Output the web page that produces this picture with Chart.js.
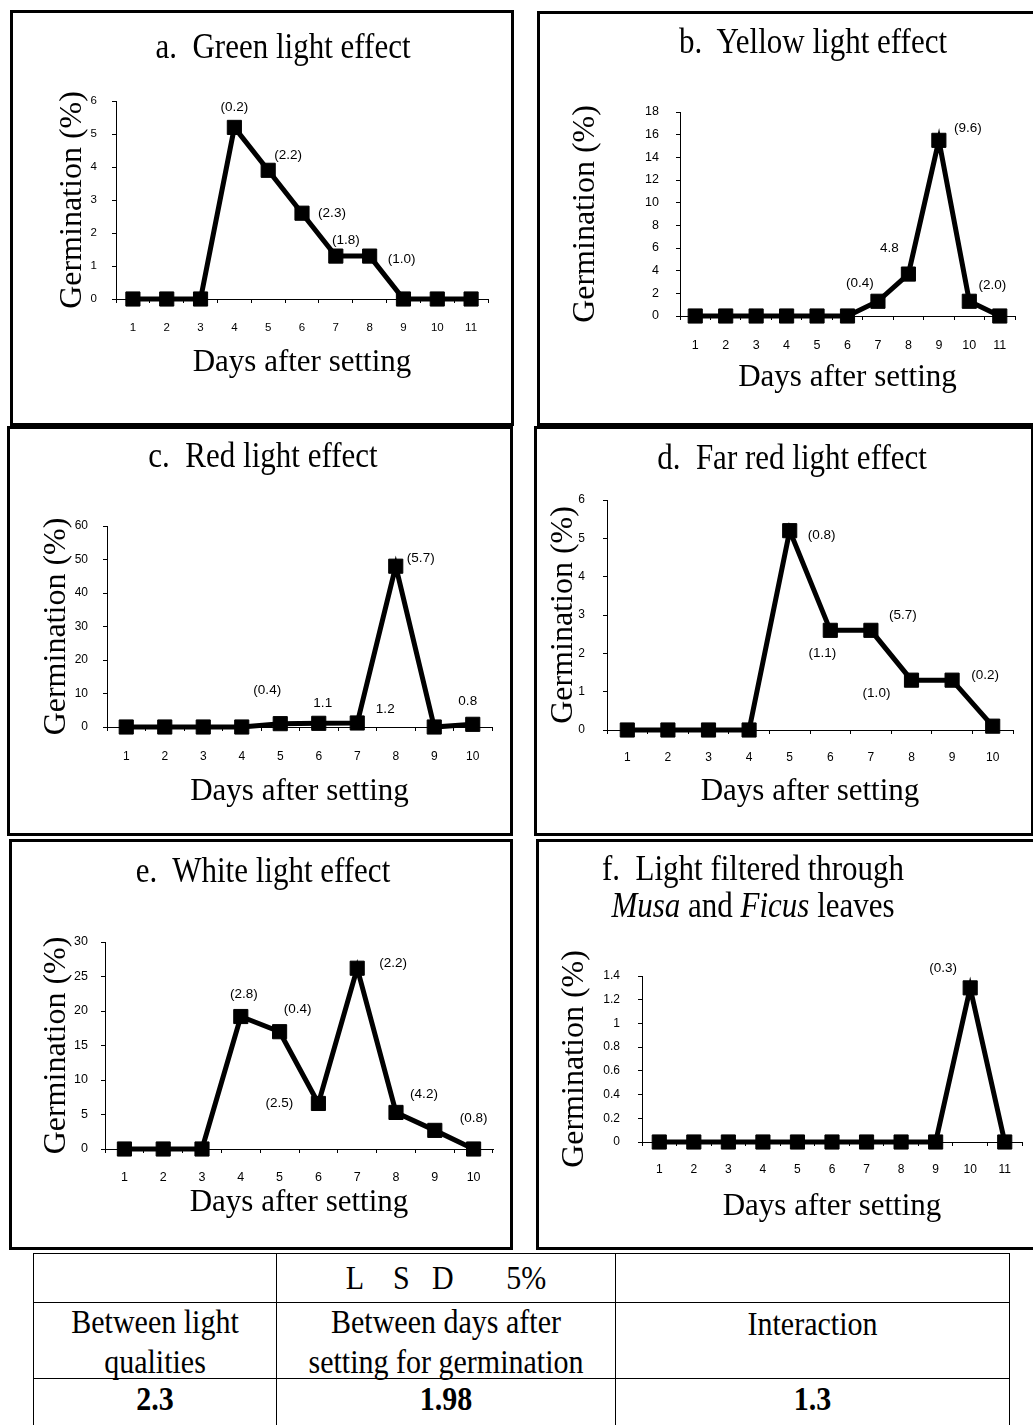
<!DOCTYPE html>
<html>
<head>
<meta charset="utf-8">
<script src="https://cdn.jsdelivr.net/npm/chart.js@4.4.1/dist/chart.umd.min.js"></script>
<style>
  html, body { margin: 0; padding: 0; background: #fff; }
  body { width: 1033px; height: 1425px; position: relative; overflow: hidden; }
  .panel { position: absolute; box-sizing: border-box; border: 3px solid #000; background: #fff; }
  .panel canvas { position: absolute; left: 0; top: 0; }
  .heading {
    position: absolute; width: 500px; text-align: center; white-space: pre;
    font-family: "Liberation Serif", "Times New Roman", serif; font-size: 31px; line-height: 1; color: #000;
    transform: scaleY(1.18); transform-origin: 50% 26px;
  }
  table.lsd {
    position: absolute; left: 33px; top: 1253px; width: 976px;
    border-collapse: collapse; table-layout: fixed;
    font-family: "Liberation Serif", "Times New Roman", serif; font-size: 30px; line-height: 36px; color: #000;
  }
  table.lsd td { border: 1.5px solid #000; text-align: center; vertical-align: top; padding: 0; white-space: pre; }
  table.lsd td span { display: inline-block; transform: scaleY(1.1); }
  table.lsd tr.r1 td { height: 42px; padding-top: 6px; }
  table.lsd tr.r2 td { height: 70px; padding-top: 3px; }
  table.lsd tr.r3 td { height: 50px; padding-top: 2px; font-weight: bold; }
</style>
</head>
<body>
<table class="lsd" id="lsd">
  <colgroup><col style="width:243px"><col style="width:339px"><col style="width:394px"></colgroup>
</table>
<script>
// Days after setting
const days11 = ['1', '2', '3', '4', '5', '6', '7', '8', '9', '10', '11'];
const days10 = ['1', '2', '3', '4', '5', '6', '7', '8', '9', '10'];

// a. green light
const greenValues = [0, 0, 0, 5.2, 3.9, 2.6, 1.3, 1.3, 0, 0, 0];
const greenNotes = [null, null, null, '(0.2)', '(2.2)', '(2.3)', '(1.8)', '(1.0)', null, null, null];
const greenTicks = [0, 1, 2, 3, 4, 5, 6];

// b. yellow light
const yellowValues = [0, 0, 0, 0, 0, 0, 1.3, 3.7, 15.5, 1.3, 0];
const yellowNotes = [null, null, null, null, null, null, '(0.4)', '4.8', '(9.6)', '(2.0)', null];
const yellowTicks = [0, 2, 4, 6, 8, 10, 12, 14, 16, 18];

// c. red light
const redValues = [0, 0, 0, 0, 1.0, 1.1, 1.2, 48, 0, 0.8];
const redNotes = [null, null, null, null, '(0.4)', '1.1', '1.2', '(5.7)', null, '0.8'];
const redTicks = [0, 10, 20, 30, 40, 50, 60];

// d. far red light
const farRedValues = [0, 0, 0, 0, 5.2, 2.6, 2.6, 1.3, 1.3, 0.1];
const farRedNotes = [null, null, null, null, '(0.8)', '(1.1)', '(5.7)', '(1.0)', '(0.2)', null];
const farRedTicks = [0, 1, 2, 3, 4, 5, 6];

// e. white light
const whiteValues = [0, 0, 0, 19.2, 17.0, 6.6, 26.2, 5.3, 2.7, 0];
const whiteNotes = [null, null, null, '(2.8)', '(0.4)', '(2.5)', '(2.2)', '(4.2)', null, '(0.8)'];
const whiteTicks = [0, 5, 10, 15, 20, 25, 30];

// f. light through Musa and Ficus leaves
const leafValues = [0, 0, 0, 0, 0, 0, 0, 0, 0, 1.3, 0];
const leafNotes = [null, null, null, null, null, null, null, null, null, '(0.3)', null];
const leafTicks = [0, 0.2, 0.4, 0.6, 0.8, 1, 1.2, 1.4];

// LSD 5% table
const lsdHeader = ['', 'L    S   D       5%', ''];
const lsdSources = ['Between light\nqualities', 'Between days after\nsetting for germination', 'Interaction'];
const lsdValues = ['2.3', '1.98', '1.3'];

// where each note sits relative to its point [dx, dy]
const greenNoteShift = { 3: [0, -20], 4: [20, -15], 5: [30, 0], 6: [10, -16], 7: [32, 3] };
const yellowNoteShift = { 6: [-18, -18], 7: [-19, -26], 8: [29, -12], 9: [23, -16] };
const redNoteShift = { 4: [-13, -33], 5: [4, -20], 6: [28, -14], 7: [25, -8], 9: [-5, -23] };
const farRedNoteShift = { 4: [32, 5], 5: [-8, 23], 6: [32, -15], 7: [-35, 13], 8: [33, -5] };
const whiteNoteShift = { 3: [3, -22], 4: [18, -22], 5: [-39, 0], 6: [36, -5], 7: [28, -18], 9: [0, -31] };
const leafNoteShift = { 9: [-27, -20] };

// panel boxes and plot areas in page pixels
const panels = [
  { labels: days11, values: greenValues, notes: greenNotes, ticks: greenTicks, shift: greenNoteShift,
    box: [10, 10, 504, 416], plot: [116, 101, 488, 299], yTitleX: 73, xTitleY: 363, yPad: 15, xPad: 17.5, tickSize: 11.5,
    heading: ['a.  Green light effect'], headingX: 283, headingBase: [58] },
  { labels: days11, values: yellowValues, notes: yellowNotes, ticks: yellowTicks, shift: yellowNoteShift,
    box: [537, 11, 500, 415], plot: [680, 112, 1015, 316], yTitleX: 586, xTitleY: 378, yPad: 17, xPad: 18.2, tickSize: 12.5,
    heading: ['b.  Yellow light effect'], headingX: 813, headingBase: [53] },
  { labels: days10, values: redValues, notes: redNotes, ticks: redTicks, shift: redNoteShift,
    box: [7, 426, 506, 410], plot: [107, 526, 492, 727], yTitleX: 57, xTitleY: 792, yPad: 15, xPad: 18.4, tickSize: 12,
    heading: ['c.  Red light effect'], headingX: 263, headingBase: [467] },
  { labels: days10, values: farRedValues, notes: farRedNotes, ticks: farRedTicks, shift: farRedNoteShift,
    box: [534, 426, 500, 410], plot: [607, 500, 1013, 730], yTitleX: 564, xTitleY: 792, yPad: 18, xPad: 16.4, tickSize: 12,
    heading: ['d.  Far red light effect'], headingX: 792, headingBase: [469] },
  { labels: days10, values: whiteValues, notes: whiteNotes, ticks: whiteTicks, shift: whiteNoteShift,
    box: [9, 839, 504, 411], plot: [105, 942, 493, 1149], yTitleX: 57, xTitleY: 1203, yPad: 13, xPad: 17.4, tickSize: 12.5,
    heading: ['e.  White light effect'], headingX: 263, headingBase: [882] },
  { labels: days11, values: leafValues, notes: leafNotes, ticks: leafTicks, shift: leafNoteShift,
    box: [536, 839, 500, 411], plot: [642, 976, 1022, 1142], yTitleX: 575, xTitleY: 1207, yPad: 18, xPad: 16.4, tickSize: 12,
    heading: ['f.  Light filtered through', '<i>Musa</i> and <i>Ficus</i> leaves'], headingX: 753, headingBase: [880, 917] }
];

const sansFont = "'Liberation Sans', Arial, sans-serif";
const serifFont = "'Liberation Serif', 'Times New Roman', serif";

function noteLayer(notes, shift) {
  return {
    id: 'notes',
    afterDatasetsDraw(chart) {
      const meta = chart.getDatasetMeta(0);
      const ctx = chart.ctx;
      ctx.save();
      ctx.font = '13.5px ' + sansFont;
      ctx.fillStyle = '#000';
      ctx.textAlign = 'center';
      ctx.textBaseline = 'middle';
      notes.forEach((text, i) => {
        if (!text) return;
        const pt = meta.data[i];
        const [dx, dy] = shift[i] || [0, -18];
        ctx.fillText(text, pt.x + dx, pt.y + dy);
      });
      ctx.restore();
    }
  };
}

function buildPanel(p) {
  const [bx, by, bw, bh] = p.box;
  const cl = bx + 3, ct = by + 3, cw = bw - 6, ch = bh - 6;
  const [pl, pt, pr, pb] = p.plot;
  const padLeft = p.yTitleX - 16 - cl;
  const yWidth = pl - cl - padLeft;
  const xHeight = p.xTitleY + 15.5 - pb;
  const padBottom = ct + ch - pb - xHeight;

  const div = document.createElement('div');
  div.className = 'panel';
  Object.assign(div.style, { left: bx + 'px', top: by + 'px', width: bw + 'px', height: bh + 'px' });
  const canvas = document.createElement('canvas');
  canvas.width = cw;
  canvas.height = ch;
  canvas.style.width = cw + 'px';
  canvas.style.height = ch + 'px';
  div.appendChild(canvas);
  document.body.appendChild(div);

  p.heading.forEach((line, k) => {
    const h = document.createElement('div');
    h.className = 'heading';
    h.innerHTML = line;
    h.style.left = (p.headingX - 250) + 'px';
    h.style.top = (p.headingBase[k] - 26) + 'px';
    document.body.appendChild(h);
  });

  const tickFont = { family: sansFont, size: p.tickSize };

  new Chart(canvas, {
    type: 'line',
    data: {
      labels: p.labels,
      datasets: [{
        data: p.values,
        borderColor: '#000',
        borderWidth: 5,
        pointStyle: 'rect',
        pointRadius: 10,
        pointHoverRadius: 10,
        pointBackgroundColor: '#000',
        pointBorderColor: '#000',
        pointBorderWidth: 1,
        tension: 0,
        fill: false,
        clip: false
      }]
    },
    options: {
      responsive: false,
      maintainAspectRatio: false,
      animation: false,
      devicePixelRatio: 1,
      events: [],
      layout: { padding: { left: padLeft, top: pt - ct, right: cl + cw - pr, bottom: padBottom } },
      plugins: { legend: { display: false }, tooltip: { enabled: false } },
      scales: {
        x: {
          offset: true,
          grid: { offset: true, drawOnChartArea: false, drawTicks: true, tickLength: 4, color: '#000' },
          border: { color: '#000', width: 1 },
          ticks: { color: '#000', font: tickFont, padding: p.xPad, maxRotation: 0, autoSkip: false },
          title: { display: true, text: 'Days after setting', color: '#000',
                   font: { family: serifFont, size: 31, lineHeight: 1 }, padding: 0 },
          afterFit: s => { s.height = xHeight; }
        },
        y: {
          min: p.ticks[0],
          max: p.ticks[p.ticks.length - 1],
          afterBuildTicks: s => { s.ticks = p.ticks.map(v => ({ value: v })); },
          grid: { drawOnChartArea: false, drawTicks: true, tickLength: 4, color: '#000' },
          border: { color: '#000', width: 1 },
          ticks: { color: '#000', font: tickFont, padding: p.yPad, callback: v => String(v) },
          title: { display: true, text: 'Germination (%)', color: '#000',
                   font: { family: serifFont, size: 32, lineHeight: 1 }, padding: 0 },
          afterFit: s => { s.width = yWidth; }
        }
      }
    },
    plugins: [noteLayer(p.notes, p.shift)]
  });
}

panels.forEach(buildPanel);

// LSD table rows
const table = document.getElementById('lsd');
[['r1', lsdHeader], ['r2', lsdSources], ['r3', lsdValues]].forEach(([cls, cells]) => {
  const tr = document.createElement('tr');
  tr.className = cls;
  cells.forEach(text => {
    const td = document.createElement('td');
    const span = document.createElement('span');
    span.textContent = text;
    td.appendChild(span);
    tr.appendChild(td);
  });
  table.appendChild(tr);
});
</script>
</body>
</html>
